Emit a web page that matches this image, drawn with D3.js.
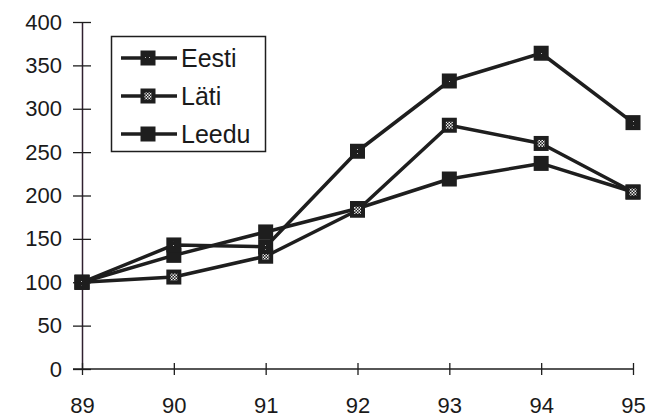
<!DOCTYPE html>
<html><head><meta charset="utf-8">
<script src="https://cdn.jsdelivr.net/npm/d3@7/dist/d3.min.js"></script>
<style>html,body{margin:0;padding:0;background:#fff;}svg{display:block;}</style>
</head><body>
<svg id="c" width="651" height="419"></svg>
<script>
const years = ["89","90","91","92","93","94","95"];
const yTicks = [0,50,100,150,200,250,300,350,400];
const seriesNames = ["Eesti","Läti","Leedu"];
const eesti = [100,143,141,251,332,364,284];
const lati  = [100,106,130,183,281,260,204];
const leedu = [100,131,158,185,219,237,204];

const svg = d3.select("#c");
const x = d3.scalePoint().domain(years).range([82,633]);
const y = d3.scaleLinear().domain([0,400]).range([369,22]);
const font = "'Liberation Sans', Arial, sans-serif";
const ink = "#1e1e1e";

// patterns
const defs = svg.append("defs");
const pE = defs.append("pattern").attr("id","pE").attr("patternUnits","userSpaceOnUse").attr("width",4).attr("height",4);
pE.append("rect").attr("width",4).attr("height",4).attr("fill",ink);
pE.append("rect").attr("x",1).attr("y",1).attr("width",1).attr("height",1).attr("fill","#bbb");
const pL = defs.append("pattern").attr("id","pL").attr("patternUnits","userSpaceOnUse").attr("width",3).attr("height",3);
pL.append("rect").attr("width",3).attr("height",3).attr("fill",ink);
pL.append("rect").attr("x",0).attr("y",0).attr("width",1.5).attr("height",1.5).attr("fill","#eee");
pL.append("rect").attr("x",1.5).attr("y",1.5).attr("width",1.5).attr("height",1.5).attr("fill","#eee");

const series = [
  {name:seriesNames[0], vals:eesti},
  {name:seriesNames[1], vals:lati},
  {name:seriesNames[2], vals:leedu}
];

// axes
const yAxis = d3.axisLeft(y).tickValues(yTicks).tickSizeInner(9).tickSizeOuter(0).tickPadding(12);
const gy = svg.append("g").attr("transform","translate(82,0)").call(yAxis);
gy.selectAll(".tick line").attr("x2",9).attr("x1",-9).attr("stroke",ink).attr("stroke-width",1.3);
gy.select(".domain").attr("stroke","#302030").attr("stroke-width",1.5);
gy.selectAll("text").attr("font-family",font).attr("font-size",22).attr("fill","#1a1a1a").attr("x",-20);

const xAxis = d3.axisBottom(x).tickSizeInner(6).tickSizeOuter(0).tickPadding(20);
const gx = svg.append("g").attr("transform","translate(0,369)").call(xAxis);
gx.selectAll(".tick line").attr("y1",-6).attr("y2",6).attr("stroke",ink).attr("stroke-width",1.3);
gx.select(".domain").attr("stroke",ink).attr("stroke-width",1.5).attr("d","M73,0H633");
gx.selectAll("text").attr("font-family",font).attr("font-size",22).attr("fill","#1a1a1a").attr("y",44).attr("dy","0");

const line = d3.line().x((d,i)=>x(years[i])).y(d=>y(d));
const ms = 15;
function marker(g, cx, cy, s){
  g.append("rect").attr("x",cx-ms/2).attr("y",cy-ms/2).attr("width",ms).attr("height",ms).attr("fill",ink);
  if(s.name===seriesNames[0]){
    g.append("rect").attr("x",cx-3).attr("y",cy-3).attr("width",6).attr("height",6).attr("fill","url(#pE)");
  } else if(s.name===seriesNames[1]){
    g.append("rect").attr("x",cx-3.5).attr("y",cy-3.5).attr("width",7).attr("height",7).attr("fill","url(#pL)");
  }
}
const plot = svg.append("g");
[...series].reverse().forEach(s=>{
  plot.append("path").datum(s.vals).attr("d",line).attr("fill","none").attr("stroke",ink).attr("stroke-width",3.5).attr("stroke-linejoin","round");
});
[...series].reverse().forEach(s=>{
  const g = plot.append("g");
  s.vals.forEach((v,i)=>marker(g, x(years[i]), y(v), s));
});

// legend
const lg = svg.append("g");
lg.append("rect").attr("x",111.5).attr("y",36.5).attr("width",154).attr("height",115).attr("fill","#fff").attr("stroke",ink).attr("stroke-width",1.5);
series.forEach((s,i)=>{
  const yy = 58 + i*38;
  lg.append("line").attr("x1",121).attr("x2",177).attr("y1",yy).attr("y2",yy).attr("stroke",ink).attr("stroke-width",3.5);
  marker(lg, 148, yy, s);
  lg.append("text").attr("x",181).attr("y",yy).attr("dy","0.36em").attr("font-family",font).attr("font-size",25).attr("fill","#1a1a1a").text(s.name);
});
</script>
</body></html>
